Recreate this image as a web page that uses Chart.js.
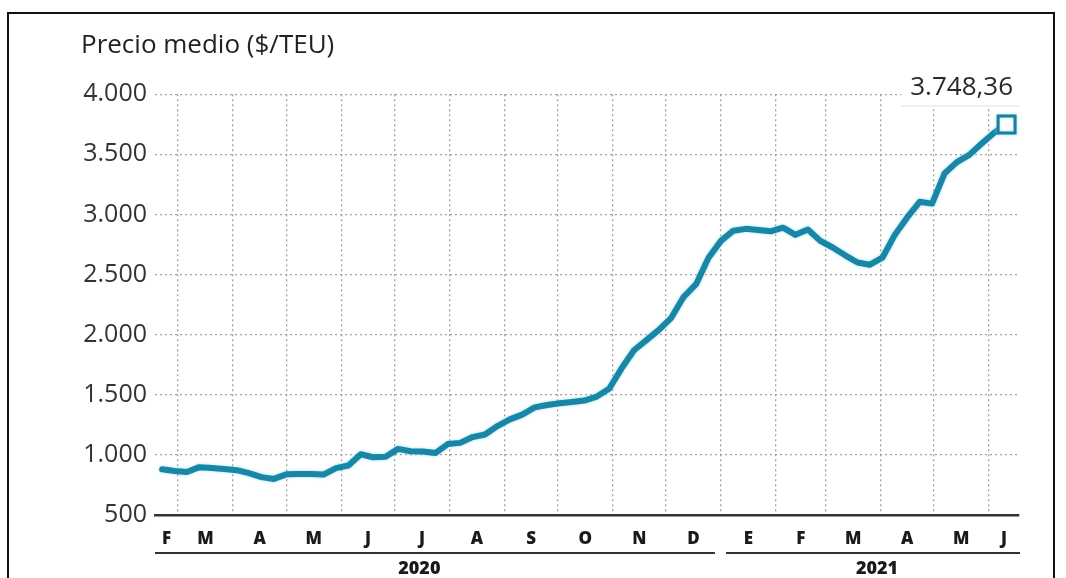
<!DOCTYPE html>
<html>
<head>
<meta charset="utf-8">
<script src="https://cdn.jsdelivr.net/npm/chart.js@4/dist/chart.umd.min.js"></script>
<style>
    html, body { margin: 0; padding: 0; background: #fff; }
    #frame { position: absolute; left: 7px; top: 12px; width: 1048px; height: 600px; border: 2px solid #111; box-sizing: border-box; }
    #wrap { position: absolute; left: 0; top: 0; width: 1066px; height: 578px; }
</style>
</head>
<body>
<div id="frame"></div>
<div id="wrap"><canvas id="myChart" width="1066" height="578"></canvas></div>
<script>
// Precio medio semanal ($/TEU), viernes 21/02/2020 - 11/06/2021
const precios = [
    880, 866, 858, 898, 890, 882, 873, 848, 815, 800,
    838, 842, 840, 836, 890, 912, 1005, 980, 985, 1050,
    1030, 1028, 1015, 1090, 1100, 1148, 1170, 1240, 1295, 1335,
    1395, 1415, 1430, 1440, 1452, 1485, 1550, 1720, 1870, 1955,
    2040, 2140, 2315, 2420, 2640, 2780, 2865, 2880, 2870, 2860,
    2890, 2830, 2875, 2780, 2725, 2660, 2600, 2582, 2640, 2830,
    2975, 3105, 3090, 3340, 3435, 3495, 3590, 3680, 3748.36,
];
const meses = ['F', 'M', 'A', 'M', 'J', 'J', 'A', 'S', 'O', 'N', 'D', 'E', 'F', 'M', 'A', 'M', 'J'];
const anios = ['2020', '2021'];
const yTicks = [500, 1000, 1500, 2000, 2500, 3000, 3500, 4000];

const DAY = 86400000;
const primeraSemana = Date.UTC(2020, 1, 21);
const xMin = -4;
const xMax = 483;

// days since the first week
const dias = precios.map((p, i) => i * 7);

// month boundaries: 1 Mar 2020 ... 1 Jun 2021
const inicioMes = [];
for (let m = 2; m <= 17; m++) {
    inicioMes.push((Date.UTC(2020, m, 1) - primeraSemana) / DAY);
}
const bordes = [xMin].concat(inicioMes, [xMax]);
const centroMes = meses.map((m, i) => (bordes[i] + bordes[i + 1]) / 2);

const miles = (v) => String(v).replace(/\B(?=(\d{3})+(?!\d))/g, '.');
const precioTexto = (v) => {
    const [ent, dec] = v.toFixed(2).split('.');
    return miles(ent) + ',' + dec;
};

const TEXTO = '#2a2a2a';
const GRID = '#a0a0a0';
const LINEA = '#1a86a6';

// white label with the last value
const ultimoValor = {
    id: 'ultimoValor',
    beforeDatasetsDraw(chart) {
        const meta = chart.getDatasetMeta(0);
        const pt = meta.data[meta.data.length - 1];
        const ctx = chart.ctx;
        const txt = precioTexto(precios[precios.length - 1]);
        const right = chart.chartArea.right;
        ctx.save();
        ctx.font = '26px "Open Sans"';
        const w = ctx.measureText(txt).width;
        const left = right - w - 15;
        const top = pt.y - 58;
        const bottom = pt.y - 18;
        ctx.fillStyle = '#fff';
        ctx.fillRect(left, top, right - left + 2, bottom - top);
        ctx.strokeStyle = '#e2e2e2';
        ctx.lineWidth = 1;
        ctx.beginPath();
        ctx.moveTo(left, bottom - 0.5);
        ctx.lineTo(right, bottom - 0.5);
        ctx.stroke();
        ctx.fillStyle = TEXTO;
        ctx.textAlign = 'right';
        ctx.textBaseline = 'middle';
        ctx.fillText(txt, right - 6, pt.y - 37);
        ctx.restore();
    },
};

// light halo around the line
const halo = {
    id: 'halo',
    beforeDatasetDraw(chart) {
        const ctx = chart.ctx;
        ctx.save();
        ctx.shadowColor = 'rgba(110, 210, 240, 0.75)';
        ctx.shadowBlur = 3;
    },
    afterDatasetDraw(chart) {
        chart.ctx.restore();
    },
};

// year bars and labels under the month letters
const anioEje = {
    id: 'anioEje',
    afterDraw(chart) {
        const x = chart.scales.x;
        const ctx = chart.ctx;
        const ene = x.getPixelForValue(inicioMes[10]);
        const yLinea = chart.chartArea.bottom + 38;
        const tramos = [
            [x.left, ene - 6],
            [ene + 5, x.right + 1],
        ];
        const centros = [x.getPixelForValue(145), x.getPixelForValue(403)];
        ctx.save();
        ctx.strokeStyle = '#333';
        ctx.lineWidth = 2;
        tramos.forEach((t) => {
            ctx.beginPath();
            ctx.moveTo(t[0], yLinea);
            ctx.lineTo(t[1], yLinea);
            ctx.stroke();
        });
        ctx.fillStyle = '#1a1a1a';
        ctx.font = '800 18px "Open Sans"';
        ctx.textAlign = 'center';
        ctx.textBaseline = 'middle';
        anios.forEach((a, i) => ctx.fillText(a, centros[i], yLinea + 16));
        ctx.restore();
    },
};

Chart.defaults.font.family = '"Open Sans", sans-serif';

const ctx = document.getElementById('myChart');
new Chart(ctx, {
    type: 'line',
    data: {
        datasets: [
            {
                data: dias.map((d, i) => ({ x: d, y: precios[i] })),
                borderColor: LINEA,
                borderWidth: 6,
                borderJoinStyle: 'round',
                borderCapStyle: 'round',
                tension: 0,
                clip: false,
                pointStyle: 'rect',
                pointRadius: (c) => (c.dataIndex === precios.length - 1 ? 12 : 0),
                pointBackgroundColor: '#fff',
                pointBorderColor: '#1c7f9c',
                pointBorderWidth: 3,
            },
        ],
    },
    options: {
        responsive: false,
        animation: false,
        devicePixelRatio: 1,
        events: [],
        layout: { padding: { left: 81, right: 47, top: 0, bottom: 0 } },
        plugins: {
            legend: { display: false },
            tooltip: { enabled: false },
            title: {
                display: true,
                text: 'Precio medio ($/TEU)',
                align: 'start',
                color: '#222',
                font: { size: 26, weight: 'normal' },
                padding: { top: 30, bottom: 33 },
            },
        },
        scales: {
            y: {
                min: 500,
                max: 4000,
                afterFit: (s) => { s.width = 74; },
                afterBuildTicks: (s) => { s.ticks = yTicks.map((v) => ({ value: v })); },
                ticks: {
                    color: '#333',
                    padding: 8,
                    font: { size: 25 },
                    callback: (v) => miles(v),
                },
                grid: { color: GRID, lineWidth: 1.3, drawTicks: false },
                border: { display: false, dash: [2, 3] },
            },
            x: {
                type: 'linear',
                min: xMin,
                max: xMax,
                weight: 0,
                afterFit: (s) => { s.height = 0; },
                afterBuildTicks: (s) => { s.ticks = inicioMes.map((v) => ({ value: v })); },
                ticks: { display: false },
                grid: { color: GRID, lineWidth: 1.3, drawTicks: false },
                border: { display: true, color: '#333', width: 2.5, dash: [2, 3] },
            },
            x2: {
                type: 'linear',
                position: 'bottom',
                min: xMin,
                max: xMax,
                weight: 1,
                afterFit: (s) => { s.height = 63; },
                afterBuildTicks: (s) => { s.ticks = centroMes.map((v) => ({ value: v })); },
                ticks: {
                    autoSkip: false,
                    maxRotation: 0,
                    padding: 14,
                    color: '#1a1a1a',
                    font: { size: 17, weight: 800 },
                    callback: (v, i) => meses[i],
                },
                grid: { display: false, drawTicks: false },
                border: { display: false },
            },
        },
    },
    plugins: [halo, ultimoValor, anioEje],
});
</script>
</body>
</html>
